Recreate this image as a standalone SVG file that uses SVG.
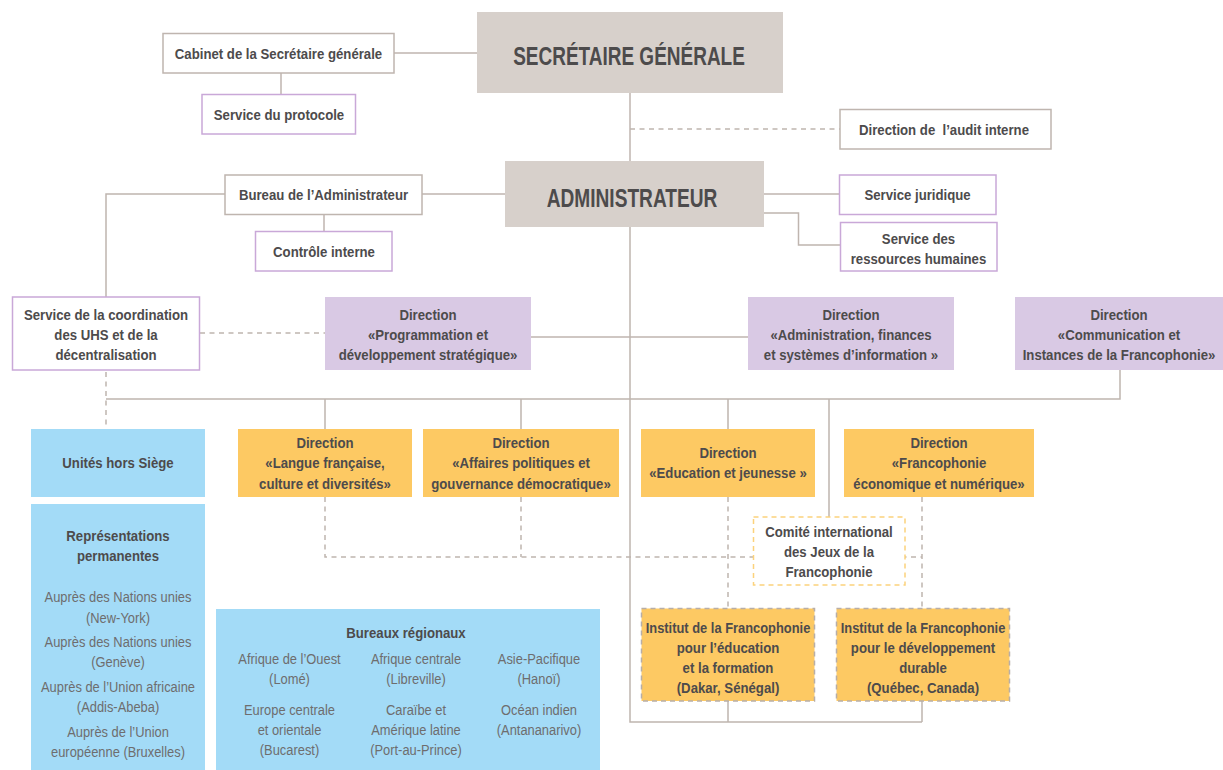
<svg xmlns="http://www.w3.org/2000/svg" width="1223" height="770" viewBox="0 0 1223 770">
<style>
.t{font-family:"Liberation Sans",Arial,sans-serif;font-weight:bold;font-size:15px;fill:#4d4b4c;text-anchor:middle}
.big{font-size:25px}
.lt{font-weight:normal;fill:#6e6d6e}
.ln{fill:none;stroke:#bfb5af;stroke-width:1.5}
.dl{fill:none;stroke:#bfb5af;stroke-width:1.5;stroke-dasharray:5 4.5}
.gb{fill:#ffffff;stroke:#bfb5af;stroke-width:1.5}
.pb{fill:#ffffff;stroke:#c9a8d8;stroke-width:1.5}
.main{fill:#d7d0cb}
.pur{fill:#d9c9e4}
.yel{fill:#fdc963}
.blu{fill:#a3dbf7}
.com{fill:#ffffff;stroke:#fcd27c;stroke-width:1.5;stroke-dasharray:5 4}
.ins{fill:#fdc963;stroke:#b8aea8;stroke-width:1.5;stroke-dasharray:5 4}
</style>
<rect width="1223" height="770" fill="#ffffff"/>
<g id="connectors">
<path class="ln" d="M394,53 H477"/>
<path class="ln" d="M281,73 V94"/>
<path class="ln" d="M630,92 V161"/>
<path class="ln" d="M630,227 V722 H922"/>
<path class="ln" d="M422,194 H505"/>
<path class="ln" d="M225,194 H106 V297"/>
<path class="ln" d="M324,214 V231"/>
<path class="ln" d="M764,194 H839"/>
<path class="ln" d="M764,213 H798.5 V245 H840"/>
<path class="ln" d="M531,337 H748"/>
<path class="ln" d="M106,399 H1120 V370"/>
<path class="ln" d="M325,399 V429 M521,399 V429 M728,399 V429 M829,399 V517"/>
<path class="ln" d="M728,701 V722 M922,701 V722"/>
<path class="dl" d="M630,129 H840"/>
<path class="dl" d="M200,333 H325"/>
<path class="dl" d="M106,372 V429"/>
<path class="dl" d="M325,497 V557 H922"/>
<path class="dl" d="M521,497 V557"/>
<path class="dl" d="M728,497 V608"/>
<path class="dl" d="M922,497 V608"/>
</g>
<g id="sg"><rect class="main" x="477" y="12" width="306" height="81"/><text class="t big" transform="translate(629 65) scale(.76 1)">SECRÉTAIRE GÉNÉRALE</text></g>
<g id="cabinet"><rect class="gb" x="163" y="33.5" width="231" height="39.5"/><text class="t" transform="translate(278.5 59) scale(.88 1)">Cabinet de la Secrétaire générale</text></g>
<g id="protocole"><rect class="pb" x="202" y="94.5" width="153.5" height="39.5"/><text class="t" transform="translate(279 119.5) scale(.88 1)">Service du protocole</text></g>
<g id="audit"><rect class="gb" x="840" y="109.5" width="211" height="39.5"/><text class="t" transform="translate(944 134.5) scale(.88 1)" xml:space="preserve">Direction de  l’audit interne</text></g>
<g id="admin"><rect class="main" x="505" y="161" width="259" height="66"/><text class="t big" transform="translate(632 206.5) scale(.765 1)">ADMINISTRATEUR</text></g>
<g id="bureau"><rect class="gb" x="225" y="175" width="197" height="39.5"/><text class="t" transform="translate(323.5 200) scale(.88 1)">Bureau de l’Administrateur</text></g>
<g id="controle"><rect class="pb" x="255.5" y="231.5" width="136.5" height="39.5"/><text class="t" transform="translate(324 256.5) scale(.88 1)">Contrôle interne</text></g>
<g id="juridique"><rect class="pb" x="839.5" y="175" width="156.5" height="39.5"/><text class="t" transform="translate(917.5 200) scale(.88 1)">Service juridique</text></g>
<g id="rh"><rect class="pb" x="840.5" y="222.5" width="156.5" height="48.5"/><text class="t" transform="translate(918.5 243.5) scale(.88 1)">Service des</text><text class="t" transform="translate(918.5 263.5) scale(.88 1)">ressources humaines</text></g>
<g id="coordination"><rect class="pb" x="12.5" y="297" width="187" height="73"/><text class="t" transform="translate(106 319.5) scale(.88 1)">Service de la coordination</text><text class="t" transform="translate(106 339.5) scale(.88 1)">des UHS et de la</text><text class="t" transform="translate(106 359.5) scale(.88 1)">décentralisation</text></g>
<g id="programmation"><rect class="pur" x="325" y="297" width="206" height="73"/><text class="t" transform="translate(428 319.5) scale(.88 1)">Direction</text><text class="t" transform="translate(428 339.5) scale(.88 1)">«Programmation et</text><text class="t" transform="translate(428 359.5) scale(.88 1)">développement stratégique»</text></g>
<g id="administration"><rect class="pur" x="748" y="297" width="206" height="73"/><text class="t" transform="translate(851 319.5) scale(.88 1)">Direction</text><text class="t" transform="translate(851 339.5) scale(.88 1)">«Administration, finances</text><text class="t" transform="translate(851 359.5) scale(.88 1)">et systèmes d’information »</text></g>
<g id="communication"><rect class="pur" x="1015" y="297" width="208" height="73"/><text class="t" transform="translate(1119 319.5) scale(.88 1)">Direction</text><text class="t" transform="translate(1119 339.5) scale(.88 1)">«Communication et</text><text class="t" transform="translate(1119 359.5) scale(.88 1)">Instances de la Francophonie»</text></g>
<g id="unites"><rect class="blu" x="31" y="429" width="174" height="68"/><text class="t" transform="translate(118 468) scale(.88 1)">Unités hors Siège</text></g>
<g id="langue"><rect class="yel" x="238" y="429" width="174" height="68"/><text class="t" transform="translate(325 447.5) scale(.88 1)">Direction</text><text class="t" transform="translate(325 468) scale(.88 1)">«Langue française,</text><text class="t" transform="translate(325 488.5) scale(.88 1)">culture et diversités»</text></g>
<g id="affaires"><rect class="yel" x="423" y="429" width="196" height="68"/><text class="t" transform="translate(521 447.5) scale(.88 1)">Direction</text><text class="t" transform="translate(521 468) scale(.88 1)">«Affaires politiques et</text><text class="t" transform="translate(521 488.5) scale(.88 1)">gouvernance démocratique»</text></g>
<g id="education"><rect class="yel" x="641" y="429" width="174" height="68"/><text class="t" transform="translate(728 457.5) scale(.88 1)">Direction</text><text class="t" transform="translate(728 477.5) scale(.88 1)">«Education et jeunesse »</text></g>
<g id="economique"><rect class="yel" x="844" y="429" width="190" height="68"/><text class="t" transform="translate(939 447.5) scale(.88 1)">Direction</text><text class="t" transform="translate(939 468) scale(.88 1)">«Francophonie</text><text class="t" transform="translate(939 488.5) scale(.88 1)">économique et numérique»</text></g>
<g id="comite"><rect class="com" x="753.5" y="517" width="151.5" height="68"/><text class="t" transform="translate(829 536.5) scale(.88 1)">Comité international</text><text class="t" transform="translate(829 556.5) scale(.88 1)">des Jeux de la</text><text class="t" transform="translate(829 576.5) scale(.88 1)">Francophonie</text></g>
<g id="institut-education"><rect class="ins" x="641.5" y="608.5" width="173" height="92.5"/><text class="t" transform="translate(728 632.5) scale(.86 1)">Institut de la Francophonie</text><text class="t" transform="translate(728 652.5) scale(.88 1)">pour l’éducation</text><text class="t" transform="translate(728 672.5) scale(.88 1)">et la formation</text><text class="t" transform="translate(728 692.5) scale(.88 1)">(Dakar, Sénégal)</text></g>
<g id="institut-developpement"><rect class="ins" x="836.5" y="608.5" width="173" height="92.5"/><text class="t" transform="translate(923 632.5) scale(.86 1)">Institut de la Francophonie</text><text class="t" transform="translate(923 652.5) scale(.88 1)">pour le développement</text><text class="t" transform="translate(923 672.5) scale(.88 1)">durable</text><text class="t" transform="translate(923 692.5) scale(.88 1)">(Québec, Canada)</text></g>
<g id="representations"><rect class="blu" x="31" y="504" width="174" height="266"/><text class="t" transform="translate(118 540.5) scale(.88 1)">Représentations</text><text class="t" transform="translate(118 560.5) scale(.88 1)">permanentes</text>
<text class="t lt" transform="translate(118 602) scale(.86 1)">Auprès des Nations unies</text><text class="t lt" transform="translate(118 622.5) scale(.86 1)">(New-York)</text><text class="t lt" transform="translate(118 646.5) scale(.86 1)">Auprès des Nations unies</text><text class="t lt" transform="translate(118 666.5) scale(.86 1)">(Genève)</text><text class="t lt" transform="translate(118 691.5) scale(.86 1)">Auprès de l’Union africaine</text><text class="t lt" transform="translate(118 711.5) scale(.86 1)">(Addis-Abeba)</text><text class="t lt" transform="translate(118 736.5) scale(.86 1)">Auprès de l’Union</text><text class="t lt" transform="translate(118 756.5) scale(.86 1)">européenne (Bruxelles)</text></g>
<g id="bureaux"><rect class="blu" x="216" y="609" width="384" height="161"/><text class="t" transform="translate(406 637.5) scale(.88 1)">Bureaux régionaux</text>
<text class="t lt" transform="translate(289.5 663.5) scale(.86 1)">Afrique de l’Ouest</text><text class="t lt" transform="translate(289.5 683.5) scale(.86 1)">(Lomé)</text>
<text class="t lt" transform="translate(416 663.5) scale(.86 1)">Afrique centrale</text><text class="t lt" transform="translate(416 683.5) scale(.86 1)">(Libreville)</text>
<text class="t lt" transform="translate(539 663.5) scale(.86 1)">Asie-Pacifique</text><text class="t lt" transform="translate(539 683.5) scale(.86 1)">(Hanoï)</text>
<text class="t lt" transform="translate(289.5 714.5) scale(.86 1)">Europe centrale</text><text class="t lt" transform="translate(289.5 734.5) scale(.86 1)">et orientale</text><text class="t lt" transform="translate(289.5 754.5) scale(.86 1)">(Bucarest)</text>
<text class="t lt" transform="translate(416 714.5) scale(.86 1)">Caraïbe et</text><text class="t lt" transform="translate(416 734.5) scale(.86 1)">Amérique latine</text><text class="t lt" transform="translate(416 754.5) scale(.86 1)">(Port-au-Prince)</text>
<text class="t lt" transform="translate(539 714.5) scale(.86 1)">Océan indien</text><text class="t lt" transform="translate(539 734.5) scale(.86 1)">(Antananarivo)</text></g>
</svg>
